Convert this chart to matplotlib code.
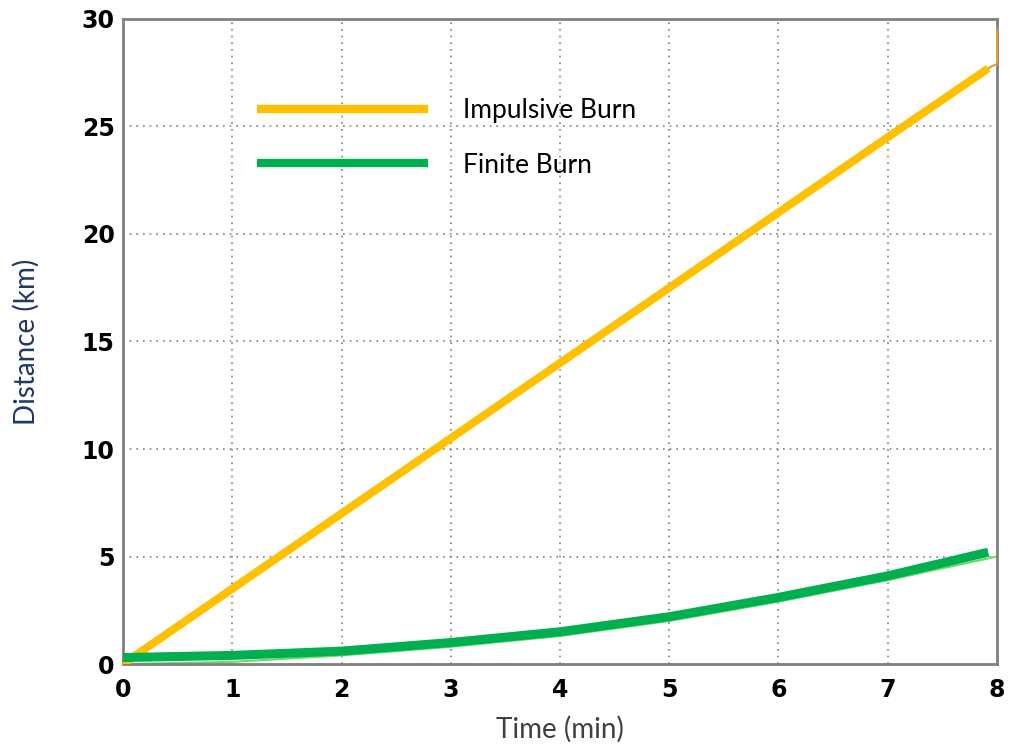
import matplotlib
matplotlib.use("Agg")
import matplotlib.pyplot as plt

# data
time_min = [0, 1, 2, 3, 4, 5, 6, 7, 7.92]
impulsive_km = [0.0, 3.5, 7.0, 10.5, 14.0, 17.5, 21.0, 24.5, 27.7]
finite_km = [0.3, 0.4, 0.6, 1.0, 1.5, 2.2, 3.1, 4.1, 5.2]

# thin underlying traces
thin_time = [0, 1, 2, 3, 4, 5, 6, 7, 7.95, 8, 8]
thin_impulsive = [0.0, 3.5, 7.0, 10.5, 14.0, 17.5, 21.0, 24.5, 27.8, 27.9, 29.5]
thin_time_f = [0, 1, 2, 3, 4, 5, 6, 7, 8]
thin_finite = [0.0, 0.1, 0.4, 0.8, 1.3, 2.0, 2.9, 3.9, 5.0]

x_ticks = [0, 1, 2, 3, 4, 5, 6, 7, 8]
y_ticks = [0, 5, 10, 15, 20, 25, 30]

fig = plt.figure(figsize=(10.1, 7.44), dpi=100)
ax = fig.add_axes([0.1218, 0.1075, 0.8653, 0.867])

ax.plot(thin_time, thin_impulsive, color="#E39A3B", lw=1.5, zorder=2.6, clip_on=False)
ax.plot(thin_time_f, thin_finite, color="#6ADB6A", lw=1.5, zorder=2)
ax.plot(time_min, impulsive_km, color="#FFC000", lw=5.8,
        solid_capstyle="butt", label="Impulsive Burn", zorder=3)
ax.plot(time_min, finite_km, color="#00B050", lw=6.5,
        solid_capstyle="butt", label="Finite Burn", zorder=4)

ax.set_xlim(0, 8)
ax.set_ylim(0, 30)
ax.set_xticks(x_ticks)
ax.set_yticks(y_ticks)
ax.tick_params(length=0, labelsize=17)
ax.tick_params(axis="x", pad=10)
ax.tick_params(axis="y", pad=6)
for lab in ax.get_xticklabels() + ax.get_yticklabels():
    lab.set_fontweight("bold")

ax.grid(True, color="#808080", linestyle=(0, (1, 3)), linewidth=1.2)
for sp in ax.spines.values():
    sp.set_color("#808080")
    sp.set_linewidth(2)

ax.set_xlabel("Time (min)", fontsize=20, color="#404040", family="Lato", labelpad=10)
ax.set_ylabel("Distance (km)", fontsize=20, color="#1F3864", family="Lato", labelpad=30)

leg = ax.legend(loc="upper left", bbox_to_anchor=(0.153, 0.8775), frameon=False,
                borderpad=0, borderaxespad=0,
                handlelength=6.5, handletextpad=1.3, labelspacing=1.12,
                prop={"family": "Lato", "size": 19})
for line in leg.get_lines():
    line.set_linewidth(6)

fig.savefig("out.png", dpi=100)
